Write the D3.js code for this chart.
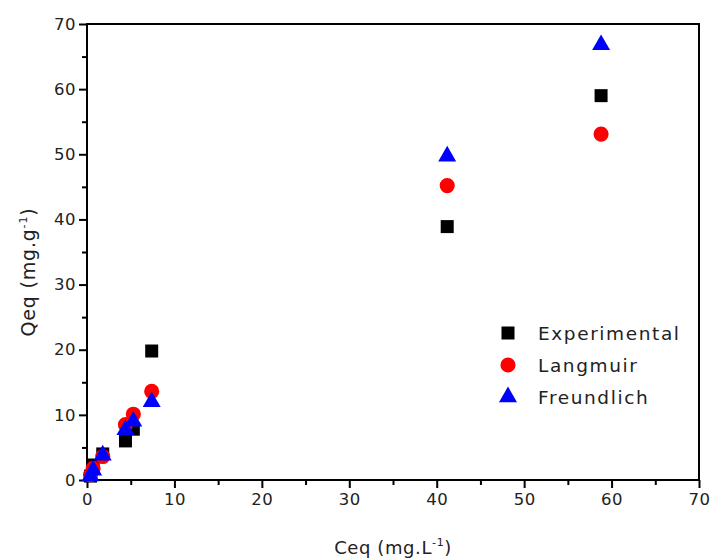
<!DOCTYPE html>
<html><head><meta charset="utf-8">
<script src="https://cdn.jsdelivr.net/npm/d3@7"></script>
<style>
body{margin:0;background:#fff;}
text{font-family:"DejaVu Sans",sans-serif;fill:#222;}
</style></head>
<body>
<svg id="c" width="713" height="559"></svg>
<script>
const ceq = [0.4, 0.7, 1.8, 4.4, 5.3, 7.4, 41.2, 58.8];
const experimental = [0.6, 2.3, 4.0, 6.0, 7.8, 19.8, 38.9, 59.0];
const langmuir = [0.8, 1.8, 3.6, 8.5, 10.1, 13.6, 45.2, 53.1];
const freundlich = [0.6, 1.5, 3.8, 7.7, 9.0, 12.0, 49.7, 66.8];
const seriesNames = ["Experimental", "Langmuir", "Freundlich"];
const xTicks = [0,10,20,30,40,50,60,70];
const yTicks = [0,10,20,30,40,50,60,70];

const svg = d3.select("#c");
const m = {l:87, r:699, t:24, b:480};
const x = d3.scaleLinear().domain([0,70]).range([m.l, m.r]);
const y = d3.scaleLinear().domain([0,70]).range([m.b, m.t]);

// frame
svg.append("rect").attr("x", m.l).attr("y", m.t).attr("width", m.r-m.l).attr("height", m.b-m.t)
  .attr("fill","none").attr("stroke","#000").attr("stroke-width",2);

const minor = d3.range(5,70,10);
// x axis
const gx = svg.append("g").attr("transform",`translate(0,${m.b})`);
gx.call(d3.axisBottom(x).tickValues(xTicks).tickSize(8).tickPadding(5).tickFormat(d3.format("d")));
gx.append("g").call(d3.axisBottom(x).tickValues(minor).tickSize(5).tickFormat(""));
// y axis
const gy = svg.append("g").attr("transform",`translate(${m.l},0)`);
gy.call(d3.axisLeft(y).tickValues(yTicks).tickSize(8).tickPadding(3).tickFormat(d3.format("d")));
gy.append("g").call(d3.axisLeft(y).tickValues(minor).tickSize(5).tickFormat(""));
svg.selectAll(".domain").remove();
svg.selectAll(".tick line").attr("stroke","#000").attr("stroke-width",2);
svg.selectAll(".tick text").style("font-family","DejaVu Sans, sans-serif").style("font-size","16.5px").style("letter-spacing","0.5px").attr("fill","#222");

// data
const data = ceq.map((c,i)=>({c, e:experimental[i], l:langmuir[i], f:freundlich[i]}));
const sq = d3.symbol().type(d3.symbolSquare).size(169);
const ci = d3.symbol().type(d3.symbolCircle).size(180);
const tr = d3.symbol().type(d3.symbolTriangle).size(140);
const colors = ["#000","#ff0000","#0000ff"];
const syms = [sq, ci, tr];
const keys = ["e","l","f"];
keys.forEach((k,j)=>{
  svg.append("g").selectAll("path").data(data).join("path")
    .attr("d", syms[j]())
    .attr("transform", d=>`translate(${x(d.c)},${y(d[k])})`)
    .attr("fill", colors[j]);
});

// legend
const lg = svg.append("g");
seriesNames.forEach((n,j)=>{
  const yy = 333 + j*32;
  lg.append("path").attr("d", syms[j]()).attr("transform",`translate(508,${yy})`).attr("fill",colors[j]);
  lg.append("text").attr("x",538).attr("y",yy+7).text(n).style("font-size","18.5px").style("letter-spacing","1.6px");
});

// axis titles
const xt = svg.append("text").attr("x",393).attr("y",554).attr("text-anchor","middle").style("font-size","18px").style("letter-spacing","0.6px");
xt.append("tspan").text("Ceq (mg.L");
xt.append("tspan").text("-1").attr("dy",-8).style("font-size","11px");
xt.append("tspan").text(")").attr("dy",8);

const yt = svg.append("text").attr("transform","translate(35,272) rotate(-90)").attr("text-anchor","middle").style("font-size","19px").style("letter-spacing","0.8px");
yt.append("tspan").text("Qeq (mg.g");
yt.append("tspan").text("-1").attr("dy",-8).style("font-size","11px");
yt.append("tspan").text(")").attr("dy",8);
</script>
</body></html>
